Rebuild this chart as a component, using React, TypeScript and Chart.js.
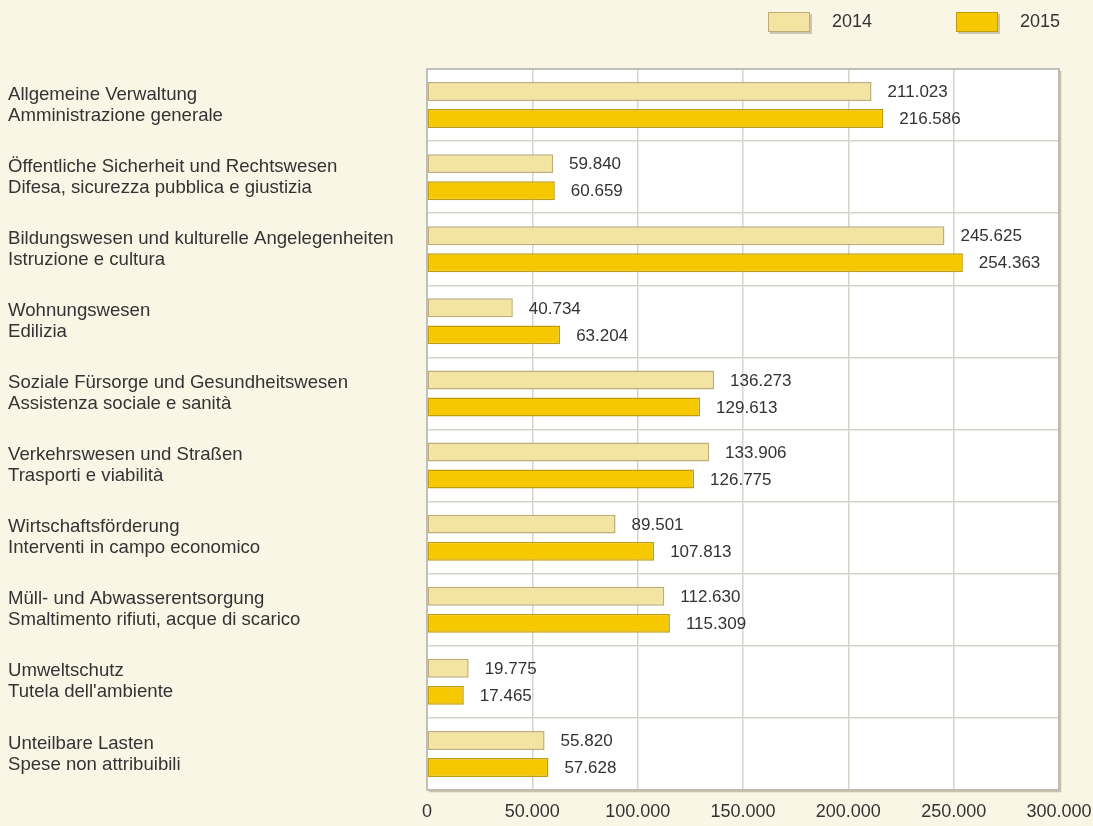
import React, { useEffect, useRef } from "react";
import { Chart, registerables } from "chart.js";

Chart.register(...registerables);

const categories: string[][] = [
  ["Allgemeine Verwaltung", "Amministrazione generale"],
  ["Öffentliche Sicherheit und Rechtswesen", "Difesa, sicurezza pubblica e giustizia"],
  ["Bildungswesen und kulturelle Angelegenheiten", "Istruzione e cultura"],
  ["Wohnungswesen", "Edilizia"],
  ["Soziale Fürsorge und Gesundheitswesen", "Assistenza sociale e sanità"],
  ["Verkehrswesen und Straßen", "Trasporti e viabilità"],
  ["Wirtschaftsförderung", "Interventi in campo economico"],
  ["Müll- und Abwasserentsorgung", "Smaltimento rifiuti, acque di scarico"],
  ["Umweltschutz", "Tutela dell'ambiente"],
  ["Unteilbare Lasten", "Spese non attribuibili"],
];

const values2014: number[] = [211023, 59840, 245625, 40734, 136273, 133906, 89501, 112630, 19775, 55820];
const values2015: number[] = [216586, 60659, 254363, 63204, 129613, 126775, 107813, 115309, 17465, 57628];

const seriesNames: string[] = ["2014", "2015"];

const FONT = "'Liberation Sans', Arial, sans-serif";
const TEXT = "#333333";
const BG = "#FAF6E6";
const C2014 = "#F4E4A2";
const B2014 = "#BCAD78";
const C2015 = "#F5C800";
const B2015 = "#BF9C10";

function fmt(v: number): string {
  return Math.round(v)
    .toString()
    .replace(/\B(?=(\d{3})+(?!\d))/g, ".");
}

const plotBgPlugin = {
  id: "plotBg",
  beforeDraw(chart: any) {
    const { ctx, chartArea } = chart;
    ctx.save();
    ctx.fillStyle = BG;
    ctx.fillRect(0, 0, chart.width, chart.height);
    ctx.fillStyle = "#FFFFFF";
    ctx.fillRect(chartArea.left, chartArea.top, chartArea.right - chartArea.left, chartArea.bottom - chartArea.top);
    ctx.restore();
  },
  afterDraw(chart: any) {
    const { ctx, chartArea } = chart;
    ctx.save();
    ctx.strokeStyle = "#B8B5AC";
    ctx.lineWidth = 1.5;
    ctx.strokeRect(chartArea.left, chartArea.top, chartArea.right - chartArea.left, chartArea.bottom - chartArea.top);
    ctx.strokeStyle = "rgba(150,145,130,0.5)";
    ctx.lineWidth = 1.5;
    ctx.beginPath();
    ctx.moveTo(chartArea.right + 1.5, chartArea.top + 2);
    ctx.lineTo(chartArea.right + 1.5, chartArea.bottom + 1.5);
    ctx.lineTo(chartArea.left + 2, chartArea.bottom + 1.5);
    ctx.stroke();
    ctx.restore();
  },
};

const valueLabelPlugin = {
  id: "valueLabels",
  afterDatasetsDraw(chart: any) {
    const { ctx } = chart;
    ctx.save();
    ctx.font = `17px ${FONT}`;
    ctx.fillStyle = TEXT;
    ctx.textAlign = "left";
    ctx.textBaseline = "middle";
    chart.data.datasets.forEach((ds: any, i: number) => {
      const meta = chart.getDatasetMeta(i);
      meta.data.forEach((bar: any, j: number) => {
        ctx.fillText(fmt(ds.data[j]), bar.x + 16, bar.y + 1);
      });
    });
    ctx.restore();
  },
};

const legendPlugin = {
  id: "customLegend",
  afterDraw(chart: any) {
    const { ctx } = chart;
    const items = [
      { x: 768, fill: C2014, border: B2014, label: seriesNames[0] },
      { x: 956, fill: C2015, border: B2015, label: seriesNames[1] },
    ];
    ctx.save();
    items.forEach((it) => {
      ctx.fillStyle = "rgba(120,110,80,0.35)";
      ctx.fillRect(it.x + 2, 14, 42, 20);
      ctx.fillStyle = it.fill;
      ctx.fillRect(it.x, 12, 42, 20);
      ctx.strokeStyle = it.border;
      ctx.lineWidth = 1;
      ctx.strokeRect(it.x + 0.5, 12.5, 41, 19);
      ctx.fillStyle = TEXT;
      ctx.font = `18px ${FONT}`;
      ctx.textAlign = "left";
      ctx.textBaseline = "middle";
      ctx.fillText(it.label, it.x + 64, 22);
    });
    ctx.restore();
  },
};

export default function App() {
  const ref = useRef<HTMLCanvasElement | null>(null);

  useEffect(() => {
    if (!ref.current) return;
    const chart = new Chart(ref.current, {
      type: "bar",
      data: {
        labels: categories,
        datasets: [
          {
            label: seriesNames[0],
            data: values2014,
            backgroundColor: C2014,
            borderColor: B2014,
            borderWidth: 1.5,
            borderSkipped: false,
            categoryPercentage: 0.75,
            barPercentage: 0.7,
          },
          {
            label: seriesNames[1],
            data: values2015,
            backgroundColor: C2015,
            borderColor: B2015,
            borderWidth: 1.5,
            borderSkipped: false,
            categoryPercentage: 0.75,
            barPercentage: 0.7,
          },
        ],
      },
      options: {
        indexAxis: "y",
        animation: false,
        responsive: false,
        maintainAspectRatio: false,
        layout: { padding: { top: 69, right: 34, bottom: 0, left: 8 } },
        plugins: {
          legend: { display: false },
          tooltip: { enabled: false },
        },
        scales: {
          x: {
            min: 0,
            max: 300000,
            ticks: {
              stepSize: 50000,
              color: TEXT,
              font: { family: FONT, size: 18 },
              padding: 11,
              callback: (v: any) => fmt(Number(v)),
            },
            grid: { color: "#D6D3CB", drawTicks: false, lineWidth: 1.5 },
            border: { display: false },
            afterFit: (scale: any) => {
              scale.height = 36;
              scale.paddingLeft = 0;
              scale.paddingRight = 0;
            },
          },
          y: {
            ticks: {
              color: TEXT,
              crossAlign: "far",
              font: { family: FONT, size: 18.6, lineHeight: 1.13 },
            },
            grid: { color: "#D6D3CB", drawTicks: false, offset: true, lineWidth: 1.5 },
            border: { display: false },
            afterFit: (scale: any) => {
              scale.width = 419;
            },
          },
        },
      },
      plugins: [plotBgPlugin, valueLabelPlugin, legendPlugin],
    });
    return () => chart.destroy();
  }, []);

  return (
    <div style={{ position: "fixed", left: 0, top: 0, width: 1093, height: 826, background: BG }}>
      <canvas ref={ref} width={1093} height={826} style={{ display: "block" }} />
    </div>
  );
}
